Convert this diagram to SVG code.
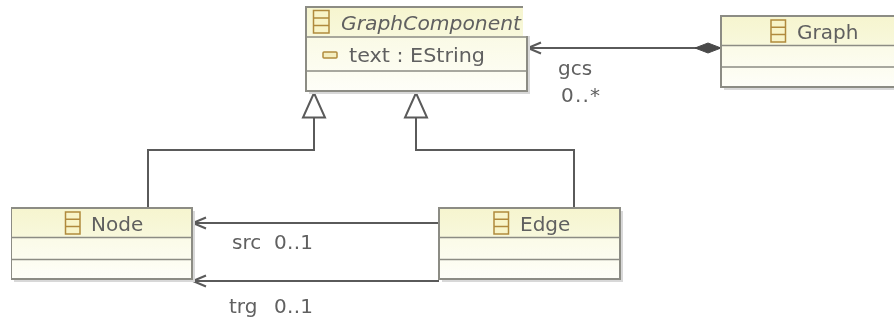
<svg xmlns="http://www.w3.org/2000/svg" width="894" height="320" viewBox="0 0 894 320">
<style>
text{font-family:"DejaVu Sans",sans-serif;font-size:20px;fill:#606060}
.box{fill:url(#body);stroke:#8c8c84;stroke-width:2}
.head{fill:url(#head)}
.sep{stroke:#8c8c84;stroke-width:1.5;fill:none}
.shadow{fill:#d8d8d8}
.icon{fill:#f8f4c8;stroke:#b08a3c;stroke-width:1.5}
.conn{fill:none;stroke:#5a5a5a;stroke-width:2}
</style>
<defs>
<linearGradient id="head" x1="0" y1="0" x2="0" y2="1"><stop offset="0" stop-color="#f6f5cf"/><stop offset="1" stop-color="#f8f8dc"/></linearGradient>
<linearGradient id="body" x1="0" y1="0" x2="0" y2="1"><stop offset="0" stop-color="#f8f8dc"/><stop offset="1" stop-color="#fefef8"/></linearGradient>
<marker id="open" markerUnits="userSpaceOnUse" markerWidth="16" markerHeight="16" refX="15" refY="8" orient="auto"><path d="M2 2.500 L15 8 L2 13.500" fill="none" stroke="#5a5a5a" stroke-width="2"/></marker>
<filter id="soft" x="0" y="0" width="100%" height="100%"><feGaussianBlur stdDeviation="0.4"/></filter>
</defs>
<rect width="894" height="320" fill="#fff"/>
<g filter="url(#soft)">
<g id="connectors">
<path class="conn" d="M721 48H528" marker-end="url(#open)"/>
<path class="conn" d="M148 208V150H314V118"/>
<path class="conn" d="M416 118V150H574V208"/>
<path class="conn" d="M439 223H193" marker-end="url(#open)"/>
<path class="conn" d="M439 281H193" marker-end="url(#open)"/>
<path d="M314 93L303 117.500H325Z" fill="#fff" stroke="#5a5a5a" stroke-width="2"/>
<path d="M416 93L405 117.500H427Z" fill="#fff" stroke="#5a5a5a" stroke-width="2"/>
<path d="M695 48L708 43L721 48L708 53Z" fill="#4a4a4a" stroke="#4a4a4a"/>
</g>
<g id="GraphComponent">
<rect class="shadow" x="309" y="10" width="221" height="84"/>
<rect class="box" x="306" y="7" width="221" height="84"/>
<rect class="head" x="307" y="8" width="219" height="29"/>
<rect x="523" y="6" width="7" height="30" fill="#fff"/>
<path class="sep" d="M306 37H527M306 71H527"/>
<path class="sep" d="M306 7H522"/>
<path class="icon" d="M313.500 10.500H329V33H313.500ZM313.500 18H329M313.500 25.500H329"/>
<text x="341" y="30" font-style="italic" textLength="180" lengthAdjust="spacingAndGlyphs">GraphComponent</text>
<rect x="323" y="52" width="14" height="6" rx="1" fill="#f4eec0" stroke="#b08a3c" stroke-width="1.500"/>
<text x="349" y="62" textLength="136" lengthAdjust="spacingAndGlyphs">text : EString</text>
</g>
<g id="Graph">
<rect class="shadow" x="724" y="19" width="180" height="71"/>
<rect class="box" x="721" y="16" width="181" height="71"/>
<rect class="head" x="722" y="17" width="179" height="28"/>
<path class="sep" d="M721 45.500H902M721 67H902"/>
<path class="icon" d="M771 20H785.500V42H771ZM771 27.300H785.500M771 34.600H785.500"/>
<text x="797" y="38.500">Graph</text>
</g>
<g id="Node">
<rect class="shadow" x="14" y="211" width="181" height="71"/>
<rect class="box" x="11" y="208" width="181" height="71"/>
<rect class="head" x="12" y="209" width="179" height="28"/>
<path class="sep" d="M11 237.500H192M11 259.500H192"/>
<path class="icon" d="M65.500 212H80V234H65.500ZM65.500 219.300H80M65.500 226.600H80"/>
<text x="91" y="231">Node</text>
</g>
<g id="Edge">
<rect class="shadow" x="442" y="211" width="181" height="71"/>
<rect class="box" x="439" y="208" width="181" height="71"/>
<rect class="head" x="440" y="209" width="179" height="28"/>
<path class="sep" d="M439 237.500H620M439 259.500H620"/>
<path class="icon" d="M494 212H508.500V234H494ZM494 219.300H508.500M494 226.600H508.500"/>
<text x="520" y="231">Edge</text>
</g>
<g id="labels">
<text x="558" y="75">gcs</text>
<text x="561" y="102" textLength="39">0..*</text>
<text x="232" y="249">src</text>
<text x="274" y="249" textLength="39">0..1</text>
<text x="229" y="313">trg</text>
<text x="274" y="313" textLength="39">0..1</text>
</g>
</g>
</svg>
